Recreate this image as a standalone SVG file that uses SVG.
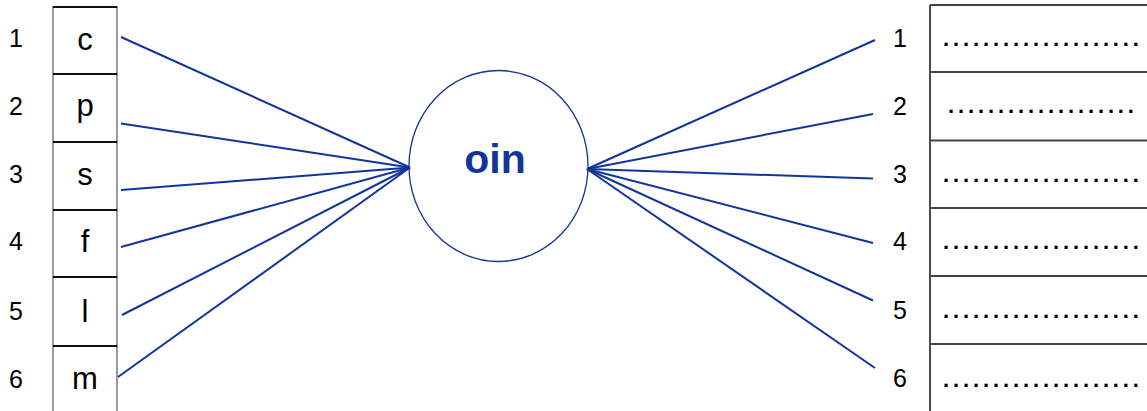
<svg xmlns="http://www.w3.org/2000/svg" width="1147" height="411" viewBox="0 0 1147 411">
<style>
.num{font-family:"Liberation Sans",Arial,sans-serif;font-size:25px;fill:#000;text-anchor:middle}
.let{font-family:"Liberation Sans",Arial,sans-serif;font-size:31px;fill:#000;text-anchor:middle}
.dots{font-family:"Liberation Sans",Arial,sans-serif;font-size:22px;font-weight:bold;fill:#000;letter-spacing:3.88px}
.vl{stroke:#555;stroke-width:1.2;fill:none}
.vr{stroke:#111;stroke-width:1.5;fill:none}
.hl{stroke:#111;stroke-width:2;fill:none}
.hr{stroke:#444;stroke-width:2;fill:none}
.con{stroke:#12359a;stroke-width:2;fill:none}
</style>
<rect width="1147" height="411" fill="#fff"/>
<g id="left-column">
<line class="vl" x1="53" y1="6" x2="53" y2="411"/>
<line class="vl" x1="117" y1="6" x2="117" y2="411"/>
<line class="hl" x1="53" y1="7" x2="117" y2="7"/>
<line class="hl" x1="53" y1="74" x2="117" y2="74"/>
<line class="hl" x1="53" y1="142" x2="117" y2="142"/>
<line class="hl" x1="53" y1="210" x2="117" y2="210"/>
<line class="hl" x1="53" y1="277" x2="117" y2="277"/>
<line class="hl" x1="53" y1="346" x2="117" y2="346"/>
</g>
<g id="left-1"><text class="num" x="16" y="47">1</text><text class="let" x="85" y="50">c</text></g>
<g id="left-2"><text class="num" x="16" y="115">2</text><text class="let" x="85" y="116">p</text></g>
<g id="left-3"><text class="num" x="16" y="183">3</text><text class="let" x="85" y="185">s</text></g>
<g id="left-4"><text class="num" x="16" y="250">4</text><text class="let" x="85" y="252">f</text></g>
<g id="left-5"><text class="num" x="16" y="320">5</text><text class="let" x="85" y="322">l</text></g>
<g id="left-6"><text class="num" x="16" y="388">6</text><text class="let" x="85" y="389">m</text></g>
<g id="center">
<ellipse cx="498.5" cy="166" rx="89.5" ry="95.5" fill="none" stroke="#12359a" stroke-width="1.3"/>
<text x="495" y="173" font-family="Liberation Sans,Arial,sans-serif" font-size="41" font-weight="bold" fill="#12359a" text-anchor="middle">oin</text>
</g>
<g id="right-column">
<line class="vr" x1="930" y1="5" x2="930" y2="411"/>
<line class="hr" x1="930" y1="5" x2="1147" y2="5"/>
<line class="hr" x1="930" y1="72" x2="1147" y2="72"/>
<line class="hr" x1="930" y1="140.5" x2="1147" y2="140.5"/>
<line class="hr" x1="930" y1="208" x2="1147" y2="208"/>
<line class="hr" x1="930" y1="276" x2="1147" y2="276"/>
<line class="hr" x1="930" y1="344" x2="1147" y2="344"/>
</g>
<g id="right-1"><text class="num" x="900" y="47">1</text><text class="dots" x="943" y="46">....................</text></g>
<g id="right-2"><text class="num" x="900" y="115">2</text><text class="dots" x="948" y="113">...................</text></g>
<g id="right-3"><text class="num" x="900" y="183">3</text><text class="dots" x="943" y="182">....................</text></g>
<g id="right-4"><text class="num" x="900" y="250">4</text><text class="dots" x="943" y="249">....................</text></g>
<g id="right-5"><text class="num" x="900" y="319">5</text><text class="dots" x="943" y="318">....................</text></g>
<g id="right-6"><text class="num" x="900" y="387">6</text><text class="dots" x="943" y="387">....................</text></g>
<g id="connectors">
<line class="con" x1="121" y1="37" x2="410" y2="167.5"/>
<line class="con" x1="121" y1="123.5" x2="410" y2="167.5"/>
<line class="con" x1="121" y1="190" x2="410" y2="167.5"/>
<line class="con" x1="121" y1="247" x2="410" y2="167.5"/>
<line class="con" x1="122" y1="315" x2="410" y2="167.5"/>
<line class="con" x1="118" y1="377" x2="410" y2="167.5"/>
<line class="con" x1="587" y1="169" x2="875" y2="40"/>
<line class="con" x1="587" y1="169" x2="873" y2="114"/>
<line class="con" x1="587" y1="169" x2="873" y2="178.5"/>
<line class="con" x1="587" y1="169" x2="873" y2="243"/>
<line class="con" x1="587" y1="169" x2="873" y2="300.5"/>
<line class="con" x1="587" y1="169" x2="875" y2="368"/>
</g>
</svg>
